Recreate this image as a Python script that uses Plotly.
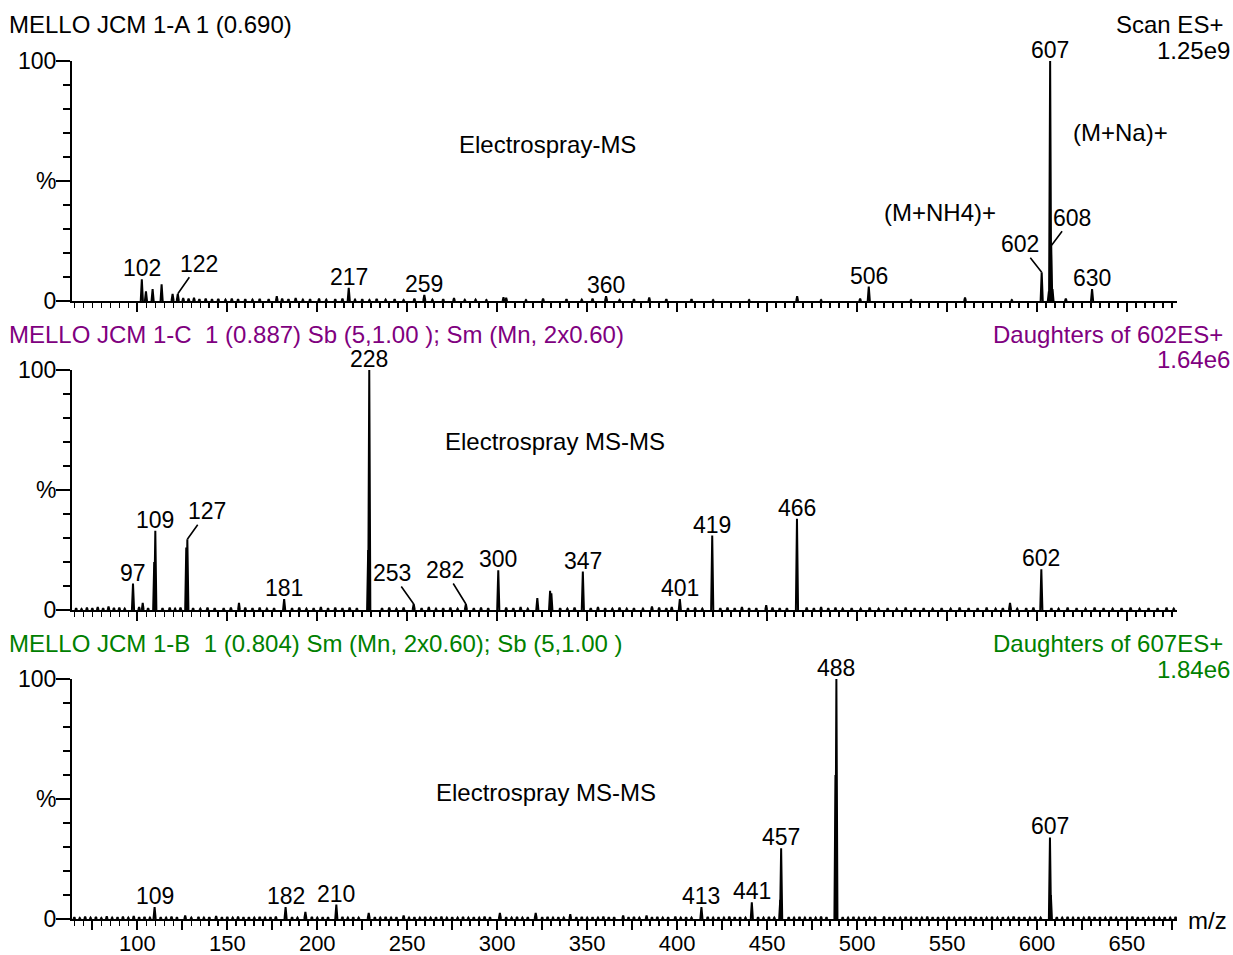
import plotly.graph_objects as go

# ---------------- DATA ----------------
# Panel 1: Scan ES+ (MELLO JCM 1-A)
p1_mz = [102.5, 104.8, 108.5, 113.5, 119.6, 122.5, 217.5, 259.5, 360.5, 506.5,
         602.6, 606.6, 607.3, 607.9, 608.6, 630.6]
p1_int = [9, 4, 5, 7, 3, 3, 5.5, 2.5, 2, 6,
          12, 4, 100, 23, 5, 5]
p1_noise = [(125.5, 1.2), (128.5, 1.0), (131.5, 1.3), (134.5, 0.8), (138, 1.0), (141.5, 0.7),
            (145, 0.9), (149, 0.6), (152.5, 1.0), (156, 0.7), (160, 0.8), (164, 0.6), (168, 0.9),
            (173, 0.7), (177.5, 2.0), (180.5, 1.0), (184, 0.8), (188, 1.2), (192, 0.6), (196, 0.8),
            (201, 1.0), (205, 0.6), (210, 0.7), (214, 1.0), (221, 0.6), (225, 0.8), (229, 0.5),
            (233, 0.9), (238, 0.6), (243, 0.8), (248, 0.5), (254, 1.0), (264, 0.6), (270, 0.8),
            (276, 1.2), (282, 0.5), (288, 0.6), (294, 0.4), (303.5, 1.6), (305, 1.3), (316, 0.4),
            (325.5, 1.0), (338.5, 0.8), (347, 0.6), (353, 1.0), (368, 0.5), (376, 0.8), (384.5, 1.5),
            (394, 0.8), (408, 0.8), (420, 0.4), (440, 0.4), (466.7, 2.0), (480, 0.4), (501.7, 1.0),
            (530, 0.4), (560, 1.5), (586, 0.4), (616, 1.0)]
p1_label_mz = [102.5, 122.5, 217.5, 259.5, 360.5, 506.5, 602.6, 607.3, 607.9, 630.6]
p1_label_text = ['102', '122', '217', '259', '360', '506', '602', '607', '608', '630']

# Panel 2: Daughters of 602 (MELLO JCM 1-C)
p2_mz = [97.6, 109.4, 110.0, 127.2, 127.8, 181.6, 228.3, 228.9, 253.6, 282.6,
         300.6, 322.3, 329.4, 330.1, 347.6, 401.5, 419.5, 466.6, 585.0, 602.4]
p2_int = [11, 20, 33, 26, 29.5, 4.5, 25, 100, 2.5, 2.5,
          16.5, 5, 8, 7, 16, 4.5, 31, 38, 3, 17]
p2_noise = [(66, 0.8), (69, 0.5), (72, 1.0), (75, 0.7), (78, 1.2), (81, 0.8), (84, 1.5), (87, 0.9),
            (90, 1.0), (93, 0.6), (101, 1.2), (103, 3.0), (106, 0.8), (114, 0.7), (118, 1.0),
            (121, 0.6), (124, 1.0), (131, 0.8), (135, 0.6), (139, 1.0), (143, 0.7), (148, 0.8),
            (152, 1.0), (156.5, 3.0), (160, 1.0), (164, 0.8), (168, 1.0), (172, 0.6), (176, 0.8),
            (186, 0.7), (190, 1.0), (194, 0.6), (198, 0.8), (202, 1.2), (206, 0.7), (210, 1.0),
            (214, 0.8), (218, 1.0), (222, 0.7), (236, 0.8), (240, 1.0), (244, 0.6), (248, 1.0),
            (258, 0.8), (262, 1.2), (266, 0.6), (270, 0.8), (274, 1.0), (278, 0.6), (287, 0.8),
            (291, 1.0), (295, 0.7), (305, 1.0), (309, 0.8), (313, 1.2), (317, 0.6), (335, 0.8),
            (339, 0.6), (343, 1.0), (352, 0.7), (356, 1.2), (360, 0.8), (364, 0.6), (368, 1.0),
            (372, 0.6), (376, 0.8), (381, 0.6), (386, 1.5), (390, 1.0), (394, 0.8), (397, 1.2),
            (406, 0.7), (410, 1.0), (414, 0.6), (424, 0.8), (428, 1.0), (432, 0.7), (436, 1.2),
            (440, 0.8), (444, 0.8), (449.5, 2.0), (453, 1.0), (457, 0.7), (461, 0.8), (472, 1.0),
            (476, 0.8), (480, 1.2), (484, 0.7), (488, 1.0), (492, 0.6), (497, 0.8), (502, 0.6),
            (507, 1.0), (512, 0.6), (517, 0.8), (522, 0.6), (527, 1.0), (532, 0.7), (537, 0.8),
            (542, 0.6), (547, 0.8), (552, 0.6), (557, 1.0), (562, 0.7), (567, 0.8), (572, 1.0),
            (577, 0.6), (581, 0.8), (589, 0.6), (594, 0.8), (598, 1.0), (608, 0.8), (612, 0.6),
            (617, 1.0), (622, 0.8), (627, 0.6), (632, 1.0), (637, 0.7), (642, 0.6), (647, 0.8),
            (652, 1.0), (657, 0.6), (662, 0.8), (667, 0.7), (672, 1.0), (676, 0.6)]
p2_label_mz = [97.6, 110.0, 127.8, 181.6, 228.9, 253.6, 282.6, 300.6, 347.6, 401.5, 419.5, 466.6, 602.4]
p2_label_text = ['97', '109', '127', '181', '228', '253', '282', '300', '347', '401', '419', '466', '602']

# Panel 3: Daughters of 607 (MELLO JCM 1-B)
p3_mz = [109.6, 182.4, 193.4, 210.6, 228.6, 301.5, 321.4, 413.5, 441.5, 457.3,
         457.8, 488.0, 488.5, 607.2, 607.7]
p3_int = [5, 5, 3, 6, 2.5, 2.5, 2.5, 5, 7, 8,
          29.5, 60, 100, 34, 10]
p3_noise = [(65, 0.8), (68, 0.5), (71, 1.0), (74, 0.6), (77, 0.9), (80, 0.5), (83, 1.1), (86, 0.6),
            (89, 0.8), (92, 1.0), (95, 0.6), (98, 1.2), (101, 0.7), (104, 0.9), (107, 0.6),
            (113, 0.8), (116, 0.6), (119, 1.0), (122, 0.7), (126.6, 1.5), (130, 0.6), (134, 0.9),
            (137, 0.6), (140, 0.8), (143.8, 1.2), (147, 0.7), (150, 0.9), (153, 0.6), (156, 1.0),
            (159, 0.7), (162, 0.8), (165, 0.6), (168, 0.9), (171, 0.6), (174, 0.8), (177, 1.0),
            (186, 0.8), (189, 0.6), (197, 0.9), (200, 0.6), (203, 0.8), (206, 0.7), (214, 0.9),
            (217, 0.6), (220, 0.8), (223, 0.6), (232, 0.8), (235, 0.6), (238, 0.9), (241, 0.6),
            (244, 0.8), (248, 1.5), (251, 0.6), (254, 0.8), (257, 0.6), (260, 0.9), (263, 0.6),
            (266, 0.8), (269, 1.0), (272, 0.6), (275, 0.8), (278, 0.6), (281, 0.9), (284, 0.6),
            (287, 0.8), (290, 0.6), (293, 1.0), (296, 0.7), (305, 0.8), (308, 0.6), (311, 0.9),
            (314, 0.6), (317, 0.8), (325, 0.7), (328, 0.9), (331, 0.6), (334, 0.8), (337, 0.6),
            (340.6, 2.0), (344, 0.7), (347, 0.9), (350, 0.6), (353, 0.8), (356, 0.6), (359, 1.0),
            (362, 0.7), (365, 0.8), (370, 1.5), (373, 0.7), (376, 0.9), (379, 0.6), (383, 1.5),
            (386, 0.7), (389, 0.9), (392, 0.6), (395, 0.8), (399, 1.0), (402, 0.6), (405, 0.8),
            (408, 0.6), (417, 0.9), (420, 0.6), (423, 0.8), (426, 0.6), (429, 1.0), (432, 0.7),
            (435, 0.8), (438, 0.6), (445, 0.8), (448, 0.6), (451, 0.9), (454, 0.6), (462, 0.8),
            (465, 0.6), (468, 0.9), (471, 0.6), (474, 0.8), (477, 0.6), (480, 1.0), (483, 0.7),
            (492, 0.8), (495, 0.6), (498, 0.9), (501, 0.6), (504, 0.8), (507, 0.6), (510, 0.9),
            (515, 1.0), (518, 0.7), (521, 0.8), (524, 0.6), (527, 0.9), (530, 0.6), (533, 0.8),
            (536, 0.6), (539, 1.0), (542, 0.7), (545, 0.8), (548, 0.6), (551, 0.9), (554, 0.6),
            (557, 0.8), (560, 0.6), (563, 1.0), (566, 0.7), (569, 0.8), (572, 0.6), (575, 0.9),
            (578, 0.6), (581, 0.8), (584, 0.6), (587, 1.0), (590, 0.7), (593, 0.8), (596, 0.6),
            (599, 0.9), (602, 0.6), (611, 0.8), (614, 0.6), (617, 0.9), (620, 0.6), (623, 0.8),
            (626, 0.6), (629, 1.0), (632, 0.7), (635, 0.8), (638, 0.6), (641, 0.9), (644, 0.6),
            (647, 0.8), (650, 0.6), (653, 1.0), (656, 0.7), (659, 0.8), (662, 0.6), (665, 0.9),
            (668, 0.6), (671, 0.8), (674, 0.6), (677, 0.9)]
p3_label_mz = [109.6, 182.4, 210.6, 413.5, 441.5, 457.8, 488.5, 607.2]
p3_label_text = ['109', '182', '210', '413', '441', '457', '488', '607']

x_tick_values = [100, 150, 200, 250, 300, 350, 400, 450, 500, 550, 600, 650]
x_tick_labels = ['100', '150', '200', '250', '300', '350', '400', '450', '500', '550', '600', '650']
y_tick_values = [0, 50, 100]
y_tick_labels = ['0', '%', '100']

# ---------------- STYLE ----------------
FONT = "Arial, 'Liberation Sans', sans-serif"
PURPLE = "#800080"
GREEN = "#008000"
X_RANGE = [63.7, 677.8]
DOMAINS = [[0.68482, 0.93613], [0.36126, 0.61257], [0.03770, 0.28901]]
TXT = 24
NUM = 23

# leader-line offsets (pixels) for labels drawn with a connector
leaders = {
    (1, '122'): (21, -30), (1, '602'): (-22, -28), (1, '608'): (21, -28),
    (2, '127'): (20, -28), (2, '253'): (-22, -31), (2, '282'): (-21, -34),
}


def sticks(mz, inten, hw):
    xs, ys = [], []
    for m, h in zip(mz, inten):
        xs += [m - hw, m, m + hw, None]
        ys += [0, h, 0, None]
    return xs, ys


fig = go.Figure()
panels = [
    (p1_mz, p1_int, p1_noise, p1_label_mz, p1_label_text),
    (p2_mz, p2_int, p2_noise, p2_label_mz, p2_label_text),
    (p3_mz, p3_int, p3_noise, p3_label_mz, p3_label_text),
]
annotations = []
for i, (mz, inten, noise, lmz, ltxt) in enumerate(panels, start=1):
    sfx = '' if i == 1 else str(i)
    nmz = [p[0] for p in noise]
    nint = [p[1] for p in noise]
    xs_n, ys_n = sticks(nmz, nint, 0.5)
    xs_p, ys_p = sticks(mz, inten, 0.6)
    fig.add_trace(go.Scatter(x=xs_n + xs_p, y=ys_n + ys_p, mode='lines',
                             line=dict(color='black', width=2),
                             xaxis='x' + sfx, yaxis='y' + sfx,
                             hoverinfo='skip', showlegend=False))
    lookup = dict(zip(mz, inten))
    for m, t in zip(lmz, ltxt):
        h = lookup[m]
        a = dict(x=m, y=h, xref='x' + sfx, yref='y' + sfx, text=t, borderpad=0,
                 font=dict(family=FONT, size=NUM, color='black'))
        if (i, t) in leaders:
            ax, ay = leaders[(i, t)]
            a.update(showarrow=True, ax=ax, ay=ay, arrowhead=0, arrowwidth=1.6,
                     arrowcolor='black', standoff=0)
        else:
            a.update(showarrow=False, yanchor='middle', yshift=11)
        annotations.append(a)

# in-plot descriptive texts
annotations += [
    dict(x=327.7, y=65, xref='x', yref='y', text='Electrospray-MS', showarrow=False,
         font=dict(family=FONT, size=TXT, color='black')),
    dict(x=646.3, y=70.4, xref='x', yref='y', text='(M+Na)+', showarrow=False,
         font=dict(family=FONT, size=TXT, color='black')),
    dict(x=546.2, y=36.7, xref='x', yref='y', text='(M+NH4)+', showarrow=False,
         font=dict(family=FONT, size=TXT, color='black')),
    dict(x=332.2, y=70.4, xref='x2', yref='y2', text='Electrospray MS-MS', showarrow=False,
         font=dict(family=FONT, size=TXT, color='black')),
    dict(x=327.2, y=52.9, xref='x3', yref='y3', text='Electrospray MS-MS', showarrow=False,
         font=dict(family=FONT, size=TXT, color='black')),
]


def px_x(p):
    return (p - 72) / 1105.0


def px_y(p):
    return (955 - p) / 955.0


headers = [
    ('MELLO JCM 1-A 1 (0.690)', 'Scan ES+', '1.25e9', 'black', 25, 50),
    ('MELLO JCM 1-C\u00a0 1 (0.887) Sb (5,1.00 ); Sm (Mn, 2x0.60)', 'Daughters of 602ES+', '1.64e6', PURPLE, 334, 360),
    ('MELLO JCM 1-B\u00a0 1 (0.804) Sm (Mn, 2x0.60); Sb (5,1.00 )', 'Daughters of 607ES+', '1.84e6', GREEN, 643, 669),
]
for left, right, scale, col, y1, y2 in headers:
    annotations.append(dict(x=px_x(8), y=px_y(y1), xref='paper', yref='paper', text=left,
                            xanchor='left', yanchor='middle', showarrow=False, borderpad=0,
                            font=dict(family=FONT, size=TXT, color=col)))
    annotations.append(dict(x=px_x(1224), y=px_y(y1), xref='paper', yref='paper', text=right,
                            xanchor='right', yanchor='middle', showarrow=False, borderpad=0,
                            font=dict(family=FONT, size=TXT, color=col)))
    annotations.append(dict(x=px_x(1231), y=px_y(y2), xref='paper', yref='paper', text=scale,
                            xanchor='right', yanchor='middle', showarrow=False, borderpad=0,
                            font=dict(family=FONT, size=TXT, color=col)))
annotations.append(dict(x=px_x(1207), y=px_y(920), xref='paper', yref='paper', text='m/z',
                        xanchor='center', yanchor='middle',
                        showarrow=False, font=dict(family=FONT, size=TXT, color='black')))

# tick positions every 25 with labels only at the listed values
major_x = [v for v in range(75, 680, 25)]
major_txt = [x_tick_labels[x_tick_values.index(v)] if v in x_tick_values else '' for v in major_x]

layout = dict(width=1233, height=955, margin=dict(l=72, r=56, t=0, b=0),
              paper_bgcolor='white', plot_bgcolor='white', showlegend=False,
              annotations=annotations)
for i in range(1, 4):
    sfx = '' if i == 1 else str(i)
    layout['xaxis' + sfx] = dict(
        domain=[0, 1], anchor='y' + sfx, range=X_RANGE, showgrid=False, zeroline=False,
        showline=True, linecolor='black', linewidth=2,
        tickmode='array', tickvals=major_x, ticktext=major_txt,
        ticks='outside', ticklen=9, tickwidth=2, tickcolor='black',
        ticklabelstandoff=-5,
        showticklabels=(i == 3), tickfont=dict(family=FONT, size=22, color='black'),
        minor=dict(tickmode='linear', tick0=0, dtick=5, ticks='outside', ticklen=5,
                   tickwidth=1.6, tickcolor='black'),
        automargin=False, fixedrange=True)
    layout['yaxis' + sfx] = dict(
        domain=DOMAINS[i - 1], anchor='x' + sfx, range=[0, 100], showgrid=False, zeroline=False,
        showline=True, linecolor='black', linewidth=2,
        tickmode='array', tickvals=y_tick_values, ticktext=y_tick_labels,
        ticks='outside', ticklen=14, tickwidth=2, tickcolor='black',
        ticklabelstandoff=-5,
        tickfont=dict(family=FONT, size=NUM, color='black'),
        minor=dict(tickmode='linear', tick0=0, dtick=10, ticks='outside', ticklen=7,
                   tickwidth=2, tickcolor='black'),
        automargin=False, fixedrange=True)

fig.update_layout(**layout)
fig.write_html("out.html", config={'displayModeBar': False, 'staticPlot': True},
               post_script="document.body.style.margin='0px';document.body.style.overflow='hidden';")
